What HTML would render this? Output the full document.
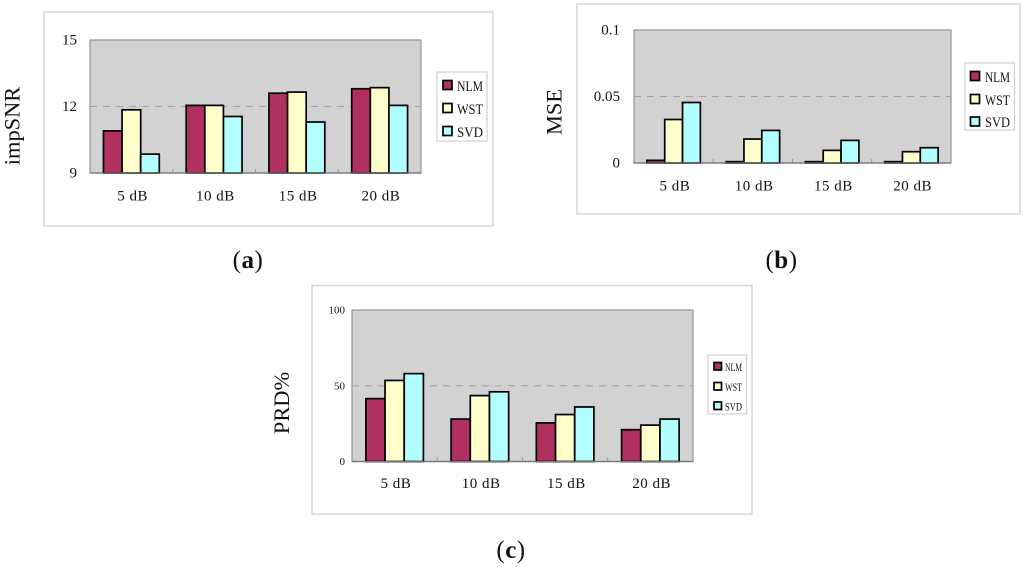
<!DOCTYPE html>
<html lang="en">
<head>
<meta charset="utf-8">
<title>impSNR, MSE and PRD% comparison charts</title>
<style>
html,body{margin:0;padding:0;background:#fff;width:1024px;height:567px;overflow:hidden}
svg{display:block;filter:blur(0.35px)}
text{font-family:"Liberation Serif",serif;fill:#111}
</style>
</head>
<body>
<svg id="figure" xmlns="http://www.w3.org/2000/svg" width="1024" height="567" viewBox="0 0 1024 567"></svg>
<script>
const categories = ["5 dB", "10 dB", "15 dB", "20 dB"];
const seriesNames = ["NLM", "WST", "SVD"];

const snrTicks = ["9", "12", "15"];
const snrNlm = [10.9, 12.05, 12.6, 12.8];
const snrWst = [11.85, 12.05, 12.65, 12.85];
const snrSvd = [9.85, 11.55, 11.3, 12.05];

const mseTicks = ["0", "0.05", "0.1"];
const mseNlm = [0.002, 0.001, 0.001, 0.001];
const mseWst = [0.0327, 0.018, 0.0095, 0.0085];
const mseSvd = [0.0455, 0.0245, 0.017, 0.0115];

const prdTicks = ["0", "50", "100"];
const prdNlm = [41.5, 28, 25.5, 21];
const prdWst = [53.5, 43.5, 31, 24];
const prdSvd = [58, 46, 36, 28];

const seriesColors = ["#b03060", "#ffffcc", "#b3ffff"];
const NS = "http://www.w3.org/2000/svg";
const root = document.getElementById("figure");

function make(parent, tag, attrs, content) {
  const el = document.createElementNS(NS, tag);
  for (const k in attrs) el.setAttribute(k, attrs[k]);
  if (content !== undefined) el.textContent = content;
  parent.appendChild(el);
  return el;
}

function drawChart(cfg) {
  const g = make(root, "g", {});
  
  

  const frame = make(g, "rect", {x: cfg.frame[0], y: cfg.frame[1], width: cfg.frame[2] - cfg.frame[0], height: cfg.frame[3] - cfg.frame[1], fill: "#fff", stroke: "#d4d4d4", "stroke-width": 1.4});
  
  

  const [px0, py0, px1, py1] = cfg.plot;
  const lo = Number(cfg.ticks[0]);
  const hi = Number(cfg.ticks[cfg.ticks.length - 1]);
  const yScale = v => py1 - (v - lo) / (hi - lo) * (py1 - py0);
  const groupW = (px1 - px0) / categories.length;
  const xGroup = i => px0 + i * groupW;

  const plot = make(g, "rect", {x: px0, y: py0, width: px1 - px0, height: py1 - py0, fill: "#d2d2d2", stroke: "#9a9a9a", "stroke-width": 1.3});
  
  

  cfg.ticks.forEach(t => {
    const v = Number(t);
    const y = yScale(v);
    if (v !== lo && v !== hi) {
      const grid = make(g, "line", {x1: px0, x2: px1, y1: y, y2: y, stroke: "#a4a4a4", "stroke-width": 1.1, "stroke-dasharray": "7 6"});
      
      
    }
    const attrs = {x: px0 - cfg.tickGap, y: y + cfg.tickDy, "text-anchor": "end", "font-size": cfg.tickFont};
    const label = make(g, "text", attrs, t);
    
    
  });

  for (let i = 1; i < categories.length; i++) {
    const tick = make(g, "line", {x1: xGroup(i), x2: xGroup(i), y1: py1, y2: py1 - 4, stroke: "#9a9a9a", "stroke-width": 1});
    
    
  }

  const barW = groupW * 0.225;
  const gap = (groupW - barW * 3) / 2;
  cfg.series.forEach((values, s) => {
    values.forEach((v, i) => {
      const y = yScale(v);
      const bar = make(g, "rect", {x: xGroup(i) + gap + s * barW, y: y, width: barW, height: py1 - y, fill: seriesColors[s], stroke: "#000", "stroke-width": 1.7});
      
      
    });
  });

  const axis = make(g, "line", {x1: px0, x2: px1, y1: py1, y2: py1, stroke: "#777", "stroke-width": 1.3});
  
  

  categories.forEach((c, i) => {
    const label = make(g, "text", {x: xGroup(i) + groupW / 2 + 1.2, y: cfg.catY, "text-anchor": "middle", "font-size": 15, "letter-spacing": 0.5}, c);
    
    
  });

  const title = make(g, "text", {transform: "translate(" + cfg.titleX + "," + cfg.titleY + ") rotate(-90)", "text-anchor": "middle", "font-size": 22.4}, cfg.title);
  
  

  const lg = cfg.legend;
  const box = make(g, "rect", {x: lg.x0, y: lg.y0, width: lg.x1 - lg.x0, height: lg.y1 - lg.y0, fill: "#fff", stroke: "#d0d0d0", "stroke-width": 1.2});
  
  
  seriesNames.forEach((n, s) => {
    const swatch = make(g, "rect", {x: lg.swatchX, y: lg.swatchY[s], width: lg.size, height: lg.size, fill: seriesColors[s], stroke: "#000", "stroke-width": 1.7});
    
    
    const entry = make(g, "text", {x: lg.textX, y: lg.textY[s], "font-size": lg.font, textLength: lg.textW, lengthAdjust: "spacingAndGlyphs"}, n);
    
    
  });

  const cap = make(g, "text", {x: cfg.capX, y: cfg.capY, "text-anchor": "middle", "font-size": 25, "letter-spacing": 0.5, fill: "#000"});
  
  
  make(cap, "tspan", {}, "(");
  make(cap, "tspan", {"font-weight": "bold"}, cfg.capLetter);
  make(cap, "tspan", {}, ")");
}

drawChart({
  id: "snr", title: "impSNR", ticks: snrTicks, series: [snrNlm, snrWst, snrSvd],
  frame: [44, 12, 493, 226], plot: [90, 40, 421, 173],
  tickGap: 13, tickDy: 4.5, tickFont: 15, catY: 200.5, titleX: 19.5, titleY: 126,
  legend: {x0: 437, y0: 72, x1: 487, y1: 141, swatchX: 443, swatchY: [80.5, 103.5, 126.5], size: 9, textX: 457, textY: [91, 114, 137], textW: 26, font: 15},
  capX: 248, capY: 268, capLetter: "a"
});
drawChart({
  id: "mse", title: "MSE", ticks: mseTicks, series: [mseNlm, mseWst, mseSvd],
  frame: [577, 4, 1020, 214], plot: [634, 30, 951, 163],
  tickGap: 14, tickDy: 4.5, tickFont: 15, catY: 190.5, titleX: 561.5, titleY: 112,
  legend: {x0: 965, y0: 63, x1: 1014.5, y1: 130, swatchX: 970.5, swatchY: [71.5, 94.5, 117], size: 9, textX: 985, textY: [82, 105, 127], textW: 25, font: 15},
  capX: 781.5, capY: 268, capLetter: "b"
});
drawChart({
  id: "prd", title: "PRD%", ticks: prdTicks, series: [prdNlm, prdWst, prdSvd],
  frame: [312, 285.5, 752, 514], plot: [352, 310, 693, 461.5],
  tickGap: 7, tickDy: 3.5, tickFont: 11, catY: 488, titleX: 289, titleY: 403,
  legend: {x0: 708, y0: 355, x1: 746.5, y1: 414, swatchX: 714, swatchY: [362.5, 382.5, 402], size: 7.5, textX: 725, textY: [371, 391, 410.5], textW: 17, font: 12},
  capX: 511, capY: 558, capLetter: "c"
});
</script>
</body>
</html>
